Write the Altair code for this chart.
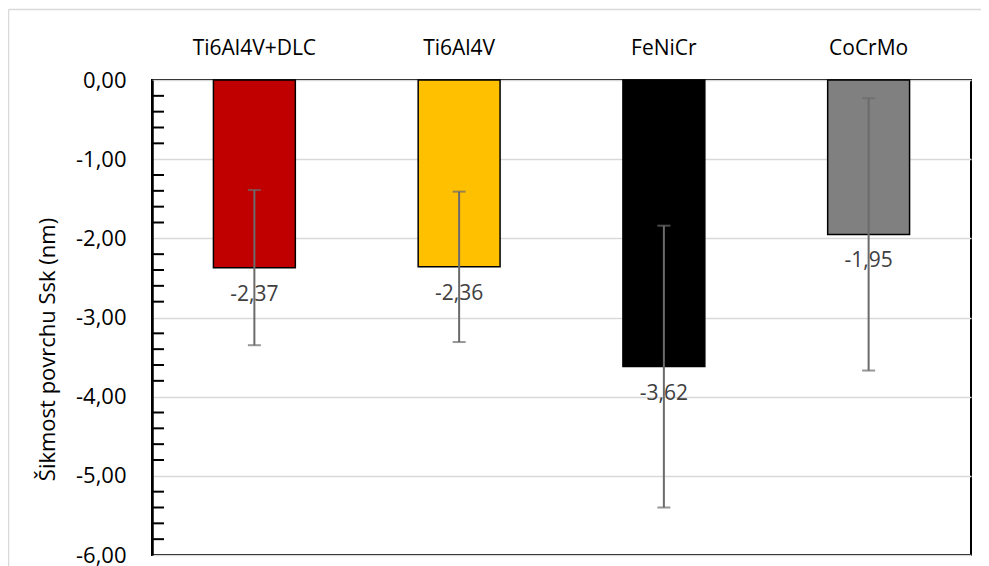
import altair as alt
import pandas as pd

categories = ["Ti6Al4V+DLC", "Ti6Al4V", "FeNiCr", "CoCrMo"]
values = [-2.37, -2.36, -3.62, -1.95]
errors = [0.98, 0.95, 1.78, 1.72]
colors = ["#C00000", "#FFC000", "#000000", "#808080"]
y_ticks = [0, -1, -2, -3, -4, -5, -6]
minor_ticks = [round(-0.2 * i, 1) for i in range(1, 30) if i % 5 != 0]
y_title = "Šikmost povrchu Ssk (nm)"

df = pd.DataFrame({
    "cat": categories,
    "value": values,
    "err": errors,
    "lo": [v - e for v, e in zip(values, errors)],
    "hi": [v + e for v, e in zip(values, errors)],
    "label": [f"{v:.2f}".replace(".", ",") for v in values],
})

FONT = "Open Sans"

x_scale = alt.Scale(domain=categories, paddingInner=0.6, paddingOuter=0.3)
x_axis = alt.Axis(orient="top", title=None, domain=False, ticks=False, tickSize=0,
                  labelPadding=32, labelAngle=0, labelBaseline="middle",
                  labelFont=FONT, labelFontSize=21, labelColor="#000000", grid=False)
y_scale = alt.Scale(domain=[-6, 0], nice=False, zero=False)
y_axis = alt.Axis(values=y_ticks, title=y_title,
                  labelExpr="replace(replace(format(datum.value, '.2f'), '.', ','), '\u2212', '-')",
                  labelFont=FONT, labelFontSize=22, labelColor="#000000",
                  labelPadding=26, ticks=False, tickSize=0,
                  domain=True, domainColor="#000000", domainWidth=2.5,
                  grid=True, gridColor="#d9d9d9", gridWidth=1.5,
                  titleFont=FONT, titleFontSize=22, titleFontWeight="normal",
                  titleColor="#000000", titleX=-105, titleY=269,
                  titleAngle=270, titleAlign="center", titleBaseline="middle")

X = alt.X("cat:N", scale=x_scale, axis=x_axis, sort=categories)

base = alt.Chart(df)

bars = base.mark_bar(stroke="#000000", strokeWidth=1.5).encode(
    x=X,
    y=alt.Y("value:Q", scale=y_scale, axis=y_axis),
    color=alt.Color("cat:N", scale=alt.Scale(domain=categories, range=colors), legend=None),
)

err_line = base.mark_rule(color="#6b6b6b", strokeWidth=2).encode(
    x=X,
    y=alt.Y("lo:Q", scale=y_scale, axis=y_axis),
    y2=alt.Y2("hi:Q"),
)

cap_lo = base.mark_tick(color="#6b6b6b", thickness=2, size=13).encode(
    x=X, y=alt.Y("lo:Q", scale=y_scale, axis=y_axis)
)
cap_hi = base.mark_tick(color="#6b6b6b", thickness=2, size=13).encode(
    x=X, y=alt.Y("hi:Q", scale=y_scale, axis=y_axis)
)

labels = base.mark_text(dy=27, font=FONT, fontSize=21, color="#404040", baseline="middle").encode(
    x=X,
    y=alt.Y("value:Q", scale=y_scale, axis=y_axis),
    text="label:N",
)

minor = alt.Chart(pd.DataFrame({"m": minor_ticks})).mark_rule(color="#000000", strokeWidth=2).encode(
    y=alt.Y("m:Q", scale=y_scale, axis=y_axis),
    x=alt.value(0),
    x2=alt.value(12),
)

deco = pd.DataFrame({"a": [0]})
outer_top = alt.Chart(deco).mark_rule(color="#d9d9d9", strokeWidth=1.5).encode(
    x=alt.value(-143.5), x2=alt.value(860), y=alt.value(-70.5)
)
outer_left = alt.Chart(deco).mark_rule(color="#d9d9d9", strokeWidth=1.5).encode(
    x=alt.value(-143.5), y=alt.value(-70.5), y2=alt.value(520)
)

chart = alt.layer(outer_top, outer_left, bars, err_line, cap_lo, cap_hi, labels, minor).properties(
    width=819,
    height=475,
    padding={"left": 144, "top": 72, "right": 10, "bottom": 30},
    autosize=alt.AutoSizeParams(type="none"),
    background="#ffffff",
).configure_view(stroke="#000000", strokeWidth=2)

chart.save("out.html", embed_options={"renderer": "svg", "actions": False})
